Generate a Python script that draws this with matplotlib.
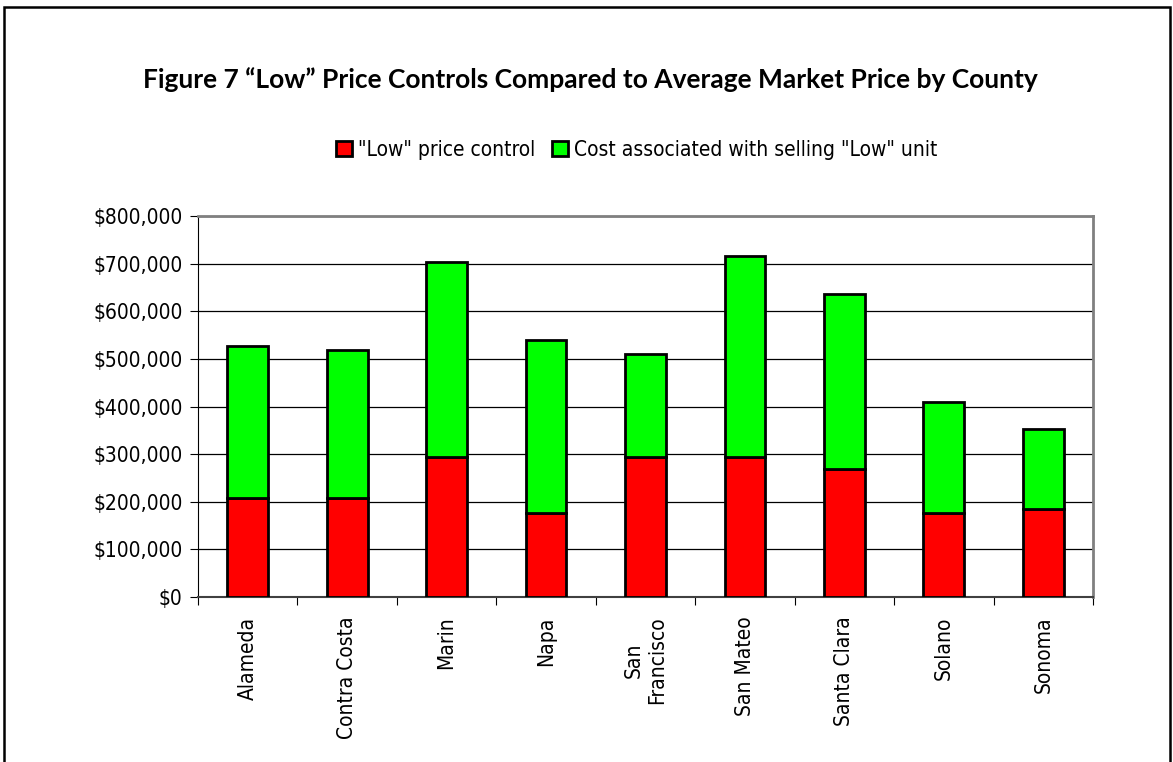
import matplotlib.pyplot as plt
import matplotlib.patches as mpatches
from matplotlib.ticker import FuncFormatter

counties = ['Alameda', 'Contra Costa', 'Marin', 'Napa', 'San\nFrancisco',
            'San Mateo', 'Santa Clara', 'Solano', 'Sonoma']
low_price = [208000, 208000, 294000, 176000, 294000, 294000, 268000, 176000, 184000]
total_price = [528000, 519000, 703000, 539000, 510000, 716000, 637000, 409000, 353000]
selling_cost = [t - l for t, l in zip(total_price, low_price)]

narrow = dict(family='DejaVu Sans', stretch='condensed', size=15)

fig = plt.figure(figsize=(11.73, 7.62), dpi=100)
ax = fig.add_axes([198/1173, 1-597/762, (1093-198)/1173, (597-216)/762])

x = range(len(counties))
ax.bar(x, low_price, width=0.41, color='#ff0000', edgecolor='black', linewidth=2,
       label='"Low" price control', zorder=3)
ax.bar(x, selling_cost, width=0.41, bottom=low_price, color='#00ff00', edgecolor='black',
       linewidth=2, label='Cost associated with selling "Low" unit', zorder=3)

ax.set_ylim(0, 800000)
ax.set_xlim(-0.5, len(counties) - 0.5)
ax.set_yticks(range(0, 800001, 100000))
ax.yaxis.set_major_formatter(FuncFormatter(lambda v, p: '${:,.0f}'.format(v)))
ax.grid(axis='y', color='black', linewidth=0.9, zorder=0)

ax.set_xticks([i + 0.5 for i in range(-1, len(counties))], minor=False)
ax.set_xticklabels([])
ax.set_xticks(list(x), minor=True)
ax.set_xticklabels(counties, minor=True, rotation=90, va='top', ha='center',
                   multialignment='center', fontproperties=narrow)
ax.tick_params(axis='x', which='minor', length=0, pad=14)
ax.tick_params(axis='x', which='major', length=6, direction='out', color='black')
ax.tick_params(axis='y', length=6, direction='out', pad=5)
for lab in ax.get_yticklabels():
    lab.set_fontproperties(narrow)

ax.spines['top'].set_color('#808080')
ax.spines['right'].set_color('#808080')
ax.spines['top'].set_linewidth(2)
ax.spines['right'].set_linewidth(2)
ax.spines['left'].set_color('black')
ax.spines['bottom'].set_color('#404040')
ax.spines['bottom'].set_linewidth(1.5)

fig.text(0.503, 1-80/762, 'Figure 7 \u201cLow\u201d Price Controls Compared to Average Market Price by County',
         ha='center', va='center', fontsize=19, fontweight='bold', family=['Lato', 'DejaVu Sans'])

leg = fig.legend(loc='center', bbox_to_anchor=(0.543, 1-150/762), ncol=2, frameon=False,
                 prop=narrow, handlelength=0.75, handleheight=0.75,
                 handletextpad=0.3, columnspacing=0.8)

fig.patches.append(mpatches.Rectangle((4/1173, -0.05), (1170-4)/1173, 1-7/762+0.05,
                                      transform=fig.transFigure, fill=False,
                                      edgecolor='black', linewidth=1.8))

fig.savefig('out.png', dpi=100)
